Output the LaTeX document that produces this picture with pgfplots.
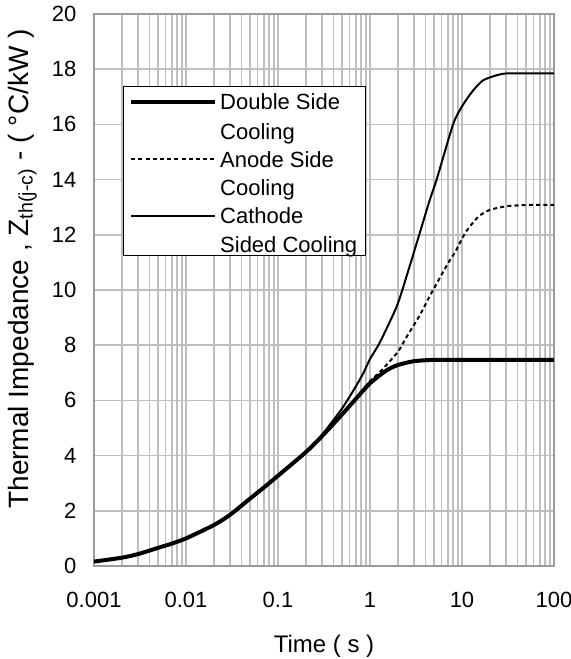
\documentclass[border=0pt]{standalone}
\usepackage{fontspec}
\setmainfont{Liberation Sans}
\usepackage{pgfplots}
\pgfplotsset{compat=1.18}
\definecolor{gridgray}{HTML}{BFBFBF}
\definecolor{framegray}{HTML}{9C9C9C}

\pgfplotstableread{
t z
0.001 0.16
0.002 0.30
0.003 0.43
0.005 0.66
0.007 0.81
0.01 1.00
0.02 1.48
0.03 1.85
0.05 2.45
0.07 2.84
0.1 3.27
0.2 4.12
0.3 4.70
0.5 5.50
0.7 6.05
1 6.62
1.5 7.08
2 7.28
3 7.42
5 7.47
10 7.47
100 7.47
}\doubleside

\pgfplotstableread{
t z
0.001 0.16
0.002 0.30
0.003 0.43
0.005 0.66
0.007 0.81
0.01 1.00
0.02 1.48
0.03 1.85
0.05 2.45
0.07 2.84
0.1 3.27
0.2 4.12
0.3 4.70
0.5 5.52
0.7 6.08
1 6.70
1.3 7.05
2 7.75
2.5 8.30
3.5 9.10
4.5 9.80
7 10.95
8.5 11.40
11 12.10
15 12.65
20 12.90
30 13.03
50 13.08
100 13.08
}\anodeside

\pgfplotstableread{
t z
0.001 0.16
0.002 0.30
0.003 0.43
0.005 0.66
0.007 0.81
0.01 1.00
0.02 1.48
0.03 1.85
0.05 2.45
0.07 2.84
0.1 3.27
0.2 4.13
0.3 4.75
0.5 5.72
0.7 6.50
0.85 7.00
1 7.50
1.28 8.10
1.95 9.40
2.5 10.50
3.5 12.10
4.5 13.30
5.3 14.00
8 16.00
10 16.65
13 17.20
17 17.60
25 17.80
33 17.85
100 17.85
}\cathodeside

\begin{document}
\fontsize{11}{13}\selectfont
\begin{tikzpicture}
\begin{axis}[
  at={(47pt,46.5pt)}, anchor=south west,
  scale only axis, width=230pt, height=276pt,
  xmode=log, log basis x=10,
  xmin=0.001, xmax=100, ymin=0, ymax=20,
  xtick={0.001,0.01,0.1,1,10,100},
  xticklabels={0.001,0.01,0.1,1,10,100},
  minor xtick={0.002,0.003,0.004,0.005,0.006,0.007,0.008,0.009,
               0.02,0.03,0.04,0.05,0.06,0.07,0.08,0.09,
               0.2,0.3,0.4,0.5,0.6,0.7,0.8,0.9,
               2,3,4,5,6,7,8,9,
               20,30,40,50,60,70,80,90},
  ytick={0,2,...,20},
  ymajorgrids=true, yminorgrids=false,
  xmajorgrids=true, xminorgrids=true,
  major grid style={gridgray, line width=0.85pt},
  minor grid style={gridgray, line width=0.85pt},
  axis line style={framegray, line width=1pt},
  major tick length=0pt, minor tick length=0pt,
  /pgf/number format/assume math mode=true,
  ticklabel style={font=\fontsize{11}{13}\selectfont},
  xticklabel style={yshift=-9pt, text height=8pt, text depth=0pt},
  yticklabel style={xshift=-5pt},
  xlabel={Time ( s )},
  xlabel style={font=\fontsize{12}{14}\selectfont, yshift=-6pt},
  ylabel={Thermal Impedance , Z\textsubscript{th(j-c)} - ( °C/kW )},
  ylabel style={font=\fontsize{14}{16}\selectfont, at={(ticklabel cs:0.09)}, anchor=south west},
  legend style={at={(rel axis cs:0.0637,0.8696)}, anchor=north west,
    draw=black, line width=0.5pt, fill=white,
    font=\fontsize{11}{13}\selectfont,
    cells={anchor=base west},
    row sep=4.1pt, column sep=0pt,
    inner xsep=2.7pt, inner ysep=1.7pt,
    nodes={inner xsep=1.5pt, inner ysep=0pt, text height=9.8pt, text depth=0pt}},
  legend image code/.code={\path (0pt,0pt); \draw[#1] (0pt,3.9pt) -- (42pt,3.9pt);},
]
\addlegendimage{black, line width=2pt}
\addlegendentry{Double Side}
\addlegendimage{empty legend}
\addlegendentry{Cooling}
\addlegendimage{black, line width=1pt, dash pattern=on 2pt off 1.6pt}
\addlegendentry{Anode Side}
\addlegendimage{empty legend}
\addlegendentry{Cooling}
\addlegendimage{black, line width=1pt}
\addlegendentry{Cathode}
\addlegendimage{empty legend}
\addlegendentry{Sided Cooling}
\addplot[black, line width=2pt, smooth, tension=0.4, forget plot] table[x=t,y=z] {\doubleside};
\addplot[black, line width=1pt, dash pattern=on 2pt off 1.6pt, smooth, tension=0.4, forget plot] table[x=t,y=z] {\anodeside};
\addplot[black, line width=1pt, smooth, tension=0.4, forget plot] table[x=t,y=z] {\cathodeside};
\end{axis}
\pgfresetboundingbox
\useasboundingbox (0,0) rectangle (285.5pt,329.5pt);
\end{tikzpicture}
\end{document}
